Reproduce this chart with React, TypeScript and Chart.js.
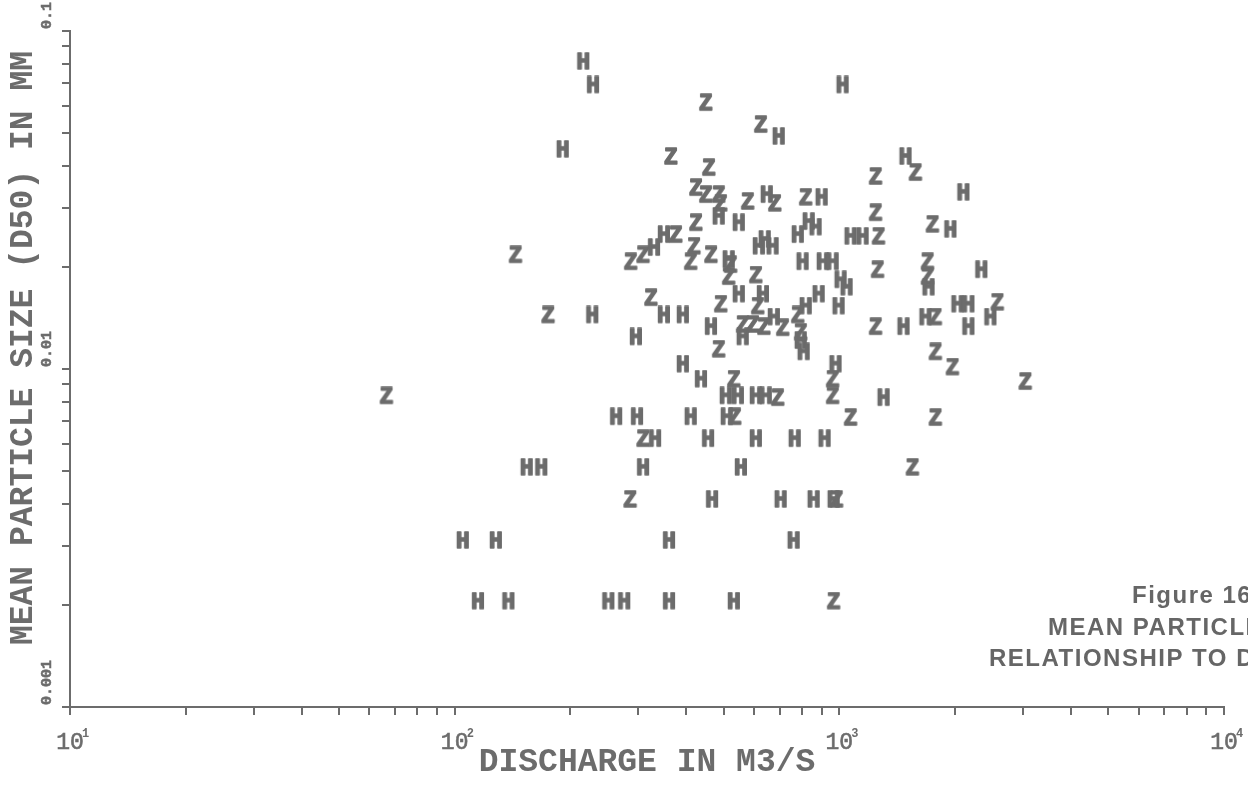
import React, { useEffect, useRef } from 'react';
import { Chart, registerables } from 'chart.js';

Chart.register(...registerables);

// ---- data ----
const hDischarge = [216, 229, 1020, 696, 191, 1487, 2102, 900, 486, 548, 833, 1945, 868, 780, 350, 1070, 1150, 330, 618, 671, 640, 648, 803, 906, 961, 516, 2341, 1008, 1045, 548, 633, 884, 1706, 228, 350, 392, 676, 818, 996, 2029, 2166, 1675, 2471, 464, 1469, 2166, 296, 561, 794, 808, 392, 437, 978, 507, 545, 607, 644, 1304, 263, 298, 411, 510, 332, 456, 607, 766, 916, 154, 168, 309, 555, 467, 704, 858, 967, 105, 128, 361, 761, 115, 138, 251, 276, 361, 532];
const hD50 = [0.081, 0.069, 0.069, 0.0486, 0.0445, 0.0424, 0.0332, 0.0321, 0.0282, 0.027, 0.0272, 0.0258, 0.0262, 0.0249, 0.0249, 0.0246, 0.0246, 0.0228, 0.023, 0.023, 0.0241, 0.0327, 0.0207, 0.0207, 0.0207, 0.021, 0.0196, 0.0183, 0.0174, 0.0166, 0.0166, 0.0166, 0.0174, 0.0144, 0.0144, 0.0144, 0.0142, 0.0153, 0.0153, 0.0155, 0.0155, 0.0142, 0.0142, 0.0133, 0.0133, 0.0133, 0.0124, 0.0124, 0.0121, 0.0112, 0.0103, 0.0093, 0.0103, 0.0083, 0.0083, 0.0083, 0.0083, 0.0082, 0.0072, 0.0072, 0.0072, 0.0072, 0.0062, 0.0062, 0.0062, 0.0062, 0.0062, 0.0051, 0.0051, 0.0051, 0.0051, 0.0041, 0.0041, 0.0041, 0.0041, 0.0031, 0.0031, 0.0031, 0.0031, 0.00205, 0.00205, 0.00205, 0.00205, 0.00205, 0.00205];

const zDischarge = [450, 625, 365, 458, 1578, 1243, 424, 450, 486, 492, 578, 680, 818, 1243, 424, 1747, 376, 1265, 309, 287, 419, 411, 464, 144, 1258, 1696, 1696, 516, 607, 324, 492, 614, 780, 175, 561, 596, 637, 713, 1243, 1778, 2576, 794, 486, 532, 961, 961, 1778, 1969, 3045, 66.5, 692, 1070, 1778, 535, 309, 1550, 286, 984, 967, 522];
const zD50 = [0.0612, 0.0527, 0.0424, 0.0393, 0.038, 0.037, 0.0343, 0.0327, 0.0327, 0.0308, 0.0312, 0.0308, 0.0321, 0.0289, 0.027, 0.0267, 0.0249, 0.0246, 0.0217, 0.0207, 0.023, 0.0207, 0.0217, 0.0217, 0.0196, 0.0207, 0.0187, 0.0187, 0.0189, 0.0162, 0.0155, 0.0153, 0.0144, 0.0144, 0.0135, 0.0135, 0.0133, 0.0132, 0.0133, 0.0142, 0.0157, 0.0128, 0.0114, 0.0093, 0.0093, 0.0083, 0.0112, 0.0101, 0.00915, 0.0083, 0.0082, 0.00716, 0.00716, 0.0072, 0.0062, 0.0051, 0.0041, 0.0041, 0.00205, 0.0203];

const xTickValues = [10, 20, 30, 40, 50, 60, 70, 80, 90, 100, 200, 300, 400, 500, 600, 700, 800, 900, 1000, 2000, 3000, 4000, 5000, 6000, 7000, 8000, 9000, 10000];
const yTickValues = [0.001, 0.002, 0.003, 0.004, 0.005, 0.006, 0.007, 0.008, 0.009, 0.01, 0.02, 0.03, 0.04, 0.05, 0.06, 0.07, 0.08, 0.09, 0.1];

const xLabelValues = [10, 100, 1000, 10000];
const xLabelExponents = ['1', '2', '3', '4'];
const yLabelValues = [0.1, 0.01, 0.001];
const yLabelTexts = ['0.1', '0.01', '0.001'];

const xTitle = 'DISCHARGE IN M3/S';
const yTitle = 'MEAN PARTICLE SIZE (D50) IN MM';
const figureLines = ['Figure 16', 'MEAN PARTICLE SIZE', 'RELATIONSHIP TO DISCHARGE'];

const INK = '#6c6c6c';
const MONO = '"Liberation Mono", "DejaVu Sans Mono", monospace';

function letterImage(ch: string): HTMLCanvasElement {
  const c = document.createElement('canvas');
  c.width = 20;
  c.height = 20;
  const ctx = c.getContext('2d')!;
  ctx.fillStyle = INK;
  ctx.strokeStyle = INK;
  ctx.lineWidth = 1.5;
  ctx.lineJoin = 'round';
  ctx.font = 'bold 23px ' + MONO;
  ctx.textAlign = 'center';
  ctx.textBaseline = 'middle';
  ctx.fillText(ch, 10, 11);
  ctx.strokeText(ch, 10, 11);
  return c;
}

const decorPlugin = {
  id: 'decor',
  afterDraw(chart: any) {
    const ctx = chart.ctx as CanvasRenderingContext2D;
    const xs = chart.scales.x;
    const ys = chart.scales.y;
    const area = chart.chartArea;
    ctx.save();
    ctx.fillStyle = INK;
    ctx.strokeStyle = INK;

    // x tick labels 10^n
    ctx.textBaseline = 'alphabetic';
    xLabelValues.forEach((v, i) => {
      const px = xs.getPixelForValue(v);
      ctx.font = '23px ' + MONO;
      ctx.textAlign = 'center';
      ctx.lineWidth = 0.6;
      ctx.fillText('10', px, area.bottom + 42);
      ctx.strokeText('10', px, area.bottom + 42);
      ctx.font = 'bold 12px ' + MONO;
      ctx.textAlign = 'left';
      ctx.fillText(xLabelExponents[i], px + 12, area.bottom + 30);
    });

    // y tick labels (rotated)
    yLabelValues.forEach((v, i) => {
      const py = ys.getPixelForValue(v);
      ctx.save();
      ctx.translate(area.left - 23, py);
      ctx.rotate(-Math.PI / 2);
      ctx.font = 'bold 15px ' + MONO;
      ctx.textAlign = 'left';
      ctx.textBaseline = 'middle';
      ctx.lineWidth = 0.5;
      ctx.fillText(yLabelTexts[i], 2, 0);
      ctx.strokeText(yLabelTexts[i], 2, 0);
      ctx.restore();
    });

    // axis titles
    ctx.font = 'bold 33px ' + MONO;
    ctx.textAlign = 'center';
    ctx.textBaseline = 'middle';
    ctx.fillText(xTitle, (area.left + area.right) / 2, area.bottom + 56);
    ctx.save();
    ctx.translate(24, 348);
    ctx.rotate(-Math.PI / 2);
    ctx.fillText(yTitle, 0, 0);
    ctx.restore();

    // figure caption (runs off the page edge)
    ctx.font = 'bold 24px "Liberation Sans", Arial, sans-serif';
    (ctx as any).letterSpacing = '1.5px';
    ctx.textAlign = 'left';
    ctx.textBaseline = 'alphabetic';
    ctx.fillStyle = '#666666';
    ctx.fillText(figureLines[0], 1132, 603);
    ctx.fillText(figureLines[1], 1048, 635);
    ctx.fillText(figureLines[2], 989, 666);
    ctx.restore();
  },
};

export default function App() {
  const ref = useRef<HTMLCanvasElement>(null);

  useEffect(() => {
    document.body.style.margin = '0';
    const hImg = letterImage('H');
    const zImg = letterImage('Z');
    const chart = new Chart(ref.current!, {
      type: 'scatter',
      data: {
        datasets: [
          {
            label: 'H',
            data: hDischarge.map((x, i) => ({ x, y: hD50[i] })),
            pointStyle: hImg as any,
            pointRadius: 7,
          },
          {
            label: 'Z',
            data: zDischarge.map((x, i) => ({ x, y: zD50[i] })),
            pointStyle: zImg as any,
            pointRadius: 7,
          },
        ],
      },
      options: {
        responsive: false,
        animation: false,
        devicePixelRatio: 1,
        layout: { padding: { top: 31, right: 24, left: 0, bottom: 0 } },
        plugins: { legend: { display: false }, tooltip: { enabled: false } },
        scales: {
          x: {
            type: 'logarithmic',
            min: 10,
            max: 10000,
            afterBuildTicks: (s: any) => {
              s.ticks = xTickValues.map((v) => ({ value: v }));
            },
            afterFit: (s: any) => {
              s.height = 79;
            },
            ticks: { display: false, autoSkip: false },
            grid: { drawOnChartArea: false, drawTicks: true, tickLength: 8, color: INK, lineWidth: 2 },
            border: { display: true, color: INK, width: 2 },
          },
          y: {
            type: 'logarithmic',
            min: 0.001,
            max: 0.1,
            afterBuildTicks: (s: any) => {
              s.ticks = yTickValues.map((v) => ({ value: v }));
            },
            afterFit: (s: any) => {
              s.width = 70;
            },
            ticks: { display: false, autoSkip: false },
            grid: { drawOnChartArea: false, drawTicks: true, tickLength: 8, color: INK, lineWidth: 2 },
            border: { display: true, color: INK, width: 2 },
          },
        },
      },
      plugins: [decorPlugin],
    });
    return () => chart.destroy();
  }, []);

  return (
    <div style={{ position: 'absolute', left: 0, top: 0, width: 1248, height: 786, background: '#fff' }}>
      <canvas ref={ref} width={1248} height={786} />
    </div>
  );
}
